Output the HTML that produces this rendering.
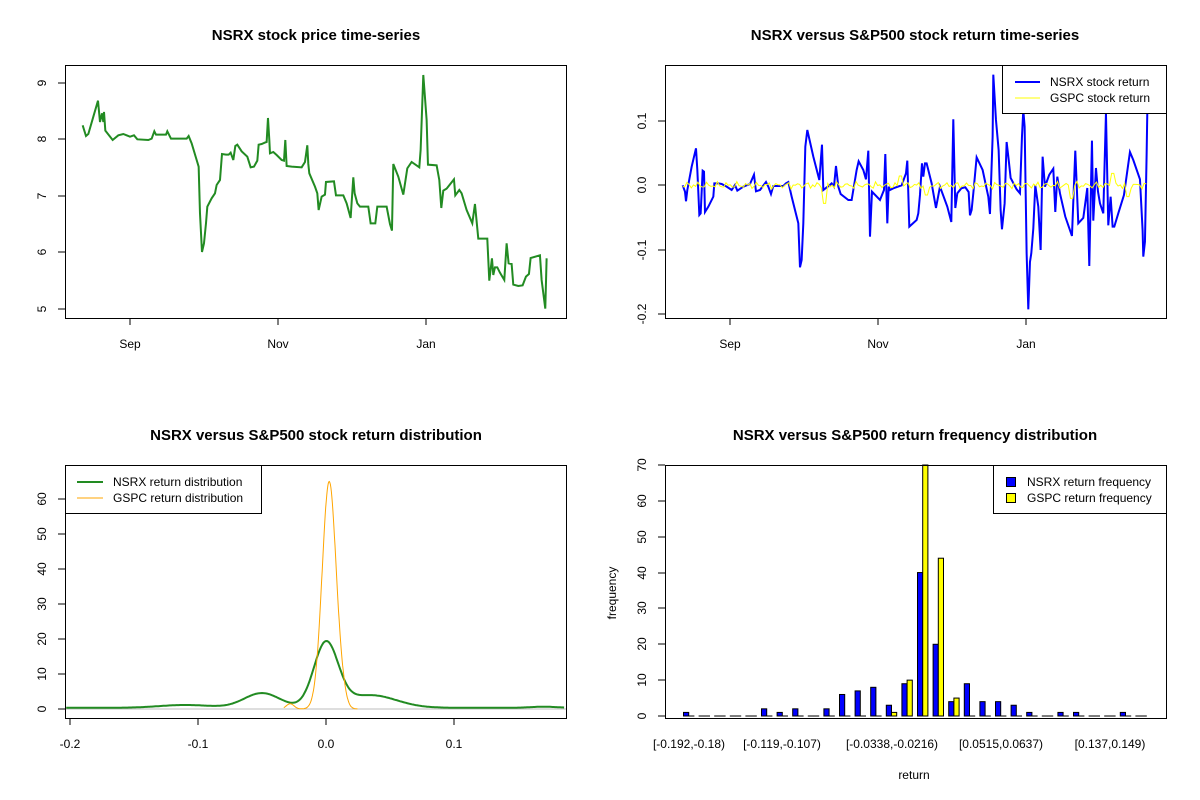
<!DOCTYPE html>
<html><head><meta charset="utf-8"><style>
html,body{margin:0;padding:0;background:#fff}
svg{display:block;font-family:"Liberation Sans",Arial,sans-serif}
</style></head><body>
<svg id="s" width="1200" height="800" viewBox="0 0 1200 800" xmlns="http://www.w3.org/2000/svg">
<defs><clipPath id="cl"><rect x="66" y="466" width="500" height="252"/></clipPath></defs>
<rect width="1200" height="800" fill="#fff"/>
<g font-weight="bold" font-size="15" text-anchor="middle">
<text x="316" y="40">NSRX stock price time-series</text>
<text x="915" y="40">NSRX versus S&amp;P500 stock return time-series</text>
<text x="316" y="440">NSRX versus S&amp;P500 stock return distribution</text>
<text x="915" y="440">NSRX versus S&amp;P500 return frequency distribution</text>
</g>

<!-- Top-left -->
<g stroke="#000" fill="none">
<rect x="65.5" y="65.5" width="501" height="253"/>
<path d="M65 83h-7M65 139h-7M65 196h-7M65 252h-7M65 309h-7M130 318v7M278 318v7M426 318v7"/>
</g>
<g font-size="12" text-anchor="middle">
<text transform="translate(46,83) rotate(-90)">9</text>
<text transform="translate(46,139) rotate(-90)">8</text>
<text transform="translate(46,196) rotate(-90)">7</text>
<text transform="translate(46,252) rotate(-90)">6</text>
<text transform="translate(46,309) rotate(-90)">5</text>
<text x="130" y="348">Sep</text><text x="278" y="348">Nov</text><text x="426" y="348">Jan</text>
</g>
<g transform="translate(60,60) scale(0.3333)">
<polyline fill="none" stroke="#228B22" stroke-width="2" vector-effect="non-scaling-stroke" points="68,196 78,228 85,222 100,170 114,122 120,186 126,160 130,186 132,156 136,212 158,240 175,226 190,222 210,230 222,226 232,238 265,240 275,236 283,214 288,224 318,224 322,214 333,236 380,236 386,228 395,250 410,300 416,320 420,460 426,576 432,550 438,490 442,440 455,415 465,400 470,375 480,360 486,282 498,284 506,284 512,278 520,300 526,258 532,254 545,274 562,290 572,322 582,320 592,302 596,254 605,252 614,248 620,246 624,174 628,240 630,280 640,276 650,285 665,300 672,302 676,240 680,318 695,320 725,322 735,306 742,256 745,312 748,340 765,380 772,400 776,450 785,410 795,404 798,366 822,364 828,406 850,406 860,430 872,474 880,352 884,400 892,430 900,440 925,440 932,490 946,490 952,440 980,440 990,492 996,512 1000,312 1015,350 1030,404 1042,325 1055,306 1078,322 1082,270 1090,45 1095,112 1100,180 1104,314 1130,316 1138,360 1144,444 1150,392 1160,386 1182,358 1186,406 1198,390 1205,400 1220,450 1237,490 1245,432 1255,536 1282,536 1288,662 1296,595 1300,645 1305,622 1312,622 1320,638 1333,660 1340,550 1346,610 1355,612 1360,674 1375,678 1388,676 1398,650 1407,642 1412,594 1440,586 1445,660 1456,746 1460,595"/>
</g>

<!-- Top-right -->
<g stroke="#000" fill="none">
<rect x="665.5" y="65.5" width="501" height="253"/>
<path d="M665 121h-7M665 185h-7M665 250h-7M665 314h-7M730 318v7M878 318v7M1026 318v7"/>
</g>
<g font-size="12" text-anchor="middle">
<text transform="translate(646,121) rotate(-90)">0.1</text>
<text transform="translate(646,185) rotate(-90)">0.0</text>
<text transform="translate(646,250) rotate(-90)">-0.1</text>
<text transform="translate(646,314) rotate(-90)">-0.2</text>
<text x="730" y="348">Sep</text><text x="878" y="348">Nov</text><text x="1026" y="348">Jan</text>
</g>
<g transform="translate(660,60) scale(0.3333)">
<polyline fill="none" stroke="#0000FF" stroke-width="2" vector-effect="non-scaling-stroke" points="68,376 75,395 78,424 82,390 95,320 108,265 112,330 118,465 122,460 128,332 132,335 135,456 145,440 160,410 163,370 175,370 185,372 200,380 215,390 225,375 232,392 250,380 270,372 282,344 288,394 300,390 318,366 325,380 333,402 340,378 370,378 378,370 385,366 395,410 410,470 415,490 420,622 425,600 430,490 436,260 442,210 460,290 478,360 486,254 490,390 506,378 515,370 522,380 528,318 535,380 542,402 565,420 575,420 590,330 596,304 610,330 618,358 625,272 630,530 636,395 660,420 672,390 676,282 682,490 686,380 690,390 700,385 725,376 738,340 742,302 748,500 770,480 775,460 780,405 786,310 790,350 795,310 800,310 815,370 822,410 828,444 840,380 862,440 874,486 880,178 886,444 892,400 904,385 916,382 926,396 930,466 935,450 940,400 950,292 968,330 985,410 990,462 998,230 1000,44 1008,180 1016,270 1022,450 1026,508 1034,430 1040,246 1046,298 1052,354 1070,388 1080,400 1086,230 1090,150 1094,200 1100,580 1105,748 1110,606 1114,580 1120,506 1126,376 1135,440 1142,570 1148,290 1155,380 1160,366 1168,344 1180,326 1186,456 1192,350 1200,400 1216,470 1236,528 1246,272 1255,490 1270,474 1282,384 1288,618 1296,242 1300,482 1308,324 1314,394 1320,430 1330,460 1338,160 1345,496 1352,410 1358,500 1363,500 1375,460 1392,405 1410,276 1420,300 1440,358 1448,512 1450,590 1455,545 1460,284 1462,160"/>
<polyline id="yl" fill="none" stroke="#FFFF00" stroke-width="1" vector-effect="non-scaling-stroke" points=""/>
</g>
<g>
<rect x="1002.5" y="65.5" width="164" height="48" fill="#fff" stroke="#000"/>
<line x1="1015" y1="82" x2="1040" y2="82" stroke="#0000FF" stroke-width="2"/>
<line x1="1015" y1="98" x2="1040" y2="98" stroke="#FFFF00" stroke-width="1"/>
<text x="1050" y="86" font-size="12">NSRX stock return</text>
<text x="1050" y="102" font-size="12">GSPC stock return</text>
</g>

<!-- Bottom-left -->
<g stroke="#000" fill="none">
<rect x="65.5" y="465.5" width="501" height="253"/>
<path d="M70 718v7M198 718v7M326 718v7M454 718v7M65 709h-7M65 674h-7M65 639h-7M65 604h-7M65 569h-7M65 534h-7M65 499h-7"/>
</g>
<g font-size="12" text-anchor="middle">
<text x="70" y="748">-0.2</text><text x="198" y="748">-0.1</text><text x="326" y="748">0.0</text><text x="454" y="748">0.1</text>
<text transform="translate(46,709) rotate(-90)">0</text>
<text transform="translate(46,674) rotate(-90)">10</text>
<text transform="translate(46,639) rotate(-90)">20</text>
<text transform="translate(46,604) rotate(-90)">30</text>
<text transform="translate(46,569) rotate(-90)">40</text>
<text transform="translate(46,534) rotate(-90)">50</text>
<text transform="translate(46,499) rotate(-90)">60</text>
</g>
<line x1="66" y1="709" x2="566" y2="709" stroke="#bebebe"/>
<g clip-path="url(#cl)">
<path id="gr" fill="none" stroke="#228B22" stroke-width="2"/>
<path id="or" fill="none" stroke="#FFA500" stroke-width="1"/>
</g>
<g>
<rect x="65.5" y="465.5" width="196" height="48" fill="#fff" stroke="#000"/>
<line x1="77" y1="482" x2="103" y2="482" stroke="#228B22" stroke-width="2"/>
<line x1="77" y1="498" x2="103" y2="498" stroke="#FFA500" stroke-width="1"/>
<text x="113" y="486" font-size="12">NSRX return distribution</text>
<text x="113" y="502" font-size="12">GSPC return distribution</text>
</g>

<!-- Bottom-right -->
<g id="bars" stroke="#000" stroke-width="1"></g>
<g stroke="#000" fill="none">
<rect x="665.5" y="465.5" width="501" height="253"/>
<path d="M665 716h-7M665 680h-7M665 644h-7M665 608h-7M665 573h-7M665 537h-7M665 501h-7M665 465h-7"/>
</g>
<g font-size="12" text-anchor="middle">
<text transform="translate(646,716) rotate(-90)">0</text>
<text transform="translate(646,680) rotate(-90)">10</text>
<text transform="translate(646,644) rotate(-90)">20</text>
<text transform="translate(646,608) rotate(-90)">30</text>
<text transform="translate(646,573) rotate(-90)">40</text>
<text transform="translate(646,537) rotate(-90)">50</text>
<text transform="translate(646,501) rotate(-90)">60</text>
<text transform="translate(646,465) rotate(-90)">70</text>
<text x="689" y="748">[-0.192,-0.18)</text>
<text x="782" y="748">[-0.119,-0.107)</text>
<text x="892" y="748">[-0.0338,-0.0216)</text>
<text x="1001" y="748">[0.0515,0.0637)</text>
<text x="1110" y="748">[0.137,0.149)</text>
<text x="914" y="779">return</text>
<text transform="translate(616,593) rotate(-90)">frequency</text>
</g>
<g>
<rect x="993.5" y="465.5" width="173" height="48" fill="#fff" stroke="#000"/>
<rect x="1006.5" y="477.5" width="9" height="9" fill="#0000FF" stroke="#000"/>
<rect x="1006.5" y="493.5" width="9" height="9" fill="#FFFF00" stroke="#000"/>
<text x="1027" y="486" font-size="12">NSRX return frequency</text>
<text x="1027" y="502" font-size="12">GSPC return frequency</text>
</g>
</svg>
<script>
(function(){
var NS="http://www.w3.org/2000/svg";
var pts=[];
for(var x=68;x<=1462;x+=6.5){
 var y=376+6*Math.sin(x*0.21)+4*Math.sin(x*0.53+1)+3*Math.sin(x*1.3);
 if(Math.abs(x-493)<6)y=430; if(Math.abs(x-800)<6)y=405; if(Math.abs(x-1236)<5)y=415; if(Math.abs(x-1405)<5)y=410;
 if(Math.abs(x-720)<5)y=348; if(Math.abs(x-1360)<6)y=340;
 pts.push(x.toFixed(1)+","+y.toFixed(1));
}
document.getElementById("yl").setAttribute("points",pts.join(" "));
function g(x,m,s){return Math.exp(-(x-m)*(x-m)/(2*s*s));}
function X(v){return 326+v*1280;}
function Y(v){return 709-v*3.5;}
var d="";
for(var v=-0.203;v<=0.187;v+=0.001){
 var f=0.35+0.8*g(v,-0.11,0.02)+4.2*g(v,-0.05,0.014)+18.3*g(v,0,0.0095)+3.6*g(v,0.035,0.02)+0.3*g(v,0.17,0.01);
 d+=(d?"L":"M")+X(v).toFixed(1)+" "+Y(f).toFixed(1);
}
document.getElementById("gr").setAttribute("d",d);
d="";
for(var v=-0.033;v<=0.025;v+=0.0004){
 var f=65*g(v,0.0025,0.0055)+1.5*g(v,-0.028,0.003)+2*g(v,0.013,0.003);
 d+=(d?"L":"M")+X(v).toFixed(1)+" "+Y(f).toFixed(1);
}
document.getElementById("or").setAttribute("d",d);
var b=[1,0,0,0,0,2,1,2,0,2,6,7,8,3,9,40,20,4,9,4,4,3,1,0,1,1,0,0,1,0];
var yv=[0,0,0,0,0,0,0,0,0,0,0,0,0,1,10,70,44,5,0,0,0,0,0,0,0,0,0,0,0,0];
var G=document.getElementById("bars");
function bar(x,h,c){var r=document.createElementNS(NS,"rect");var top=Math.max(465,716-h*3.586);
 r.setAttribute("x",x);r.setAttribute("y",top);r.setAttribute("width",5.2);r.setAttribute("height",Math.max(0.01,716-top));r.setAttribute("fill",c);G.appendChild(r);}
for(var i=0;i<30;i++){var x0=683.5+i*15.6;bar(x0,b[i],"#0000FF");bar(x0+5.2,yv[i],"#FFFF00");}
})();
</script>
</body></html>
